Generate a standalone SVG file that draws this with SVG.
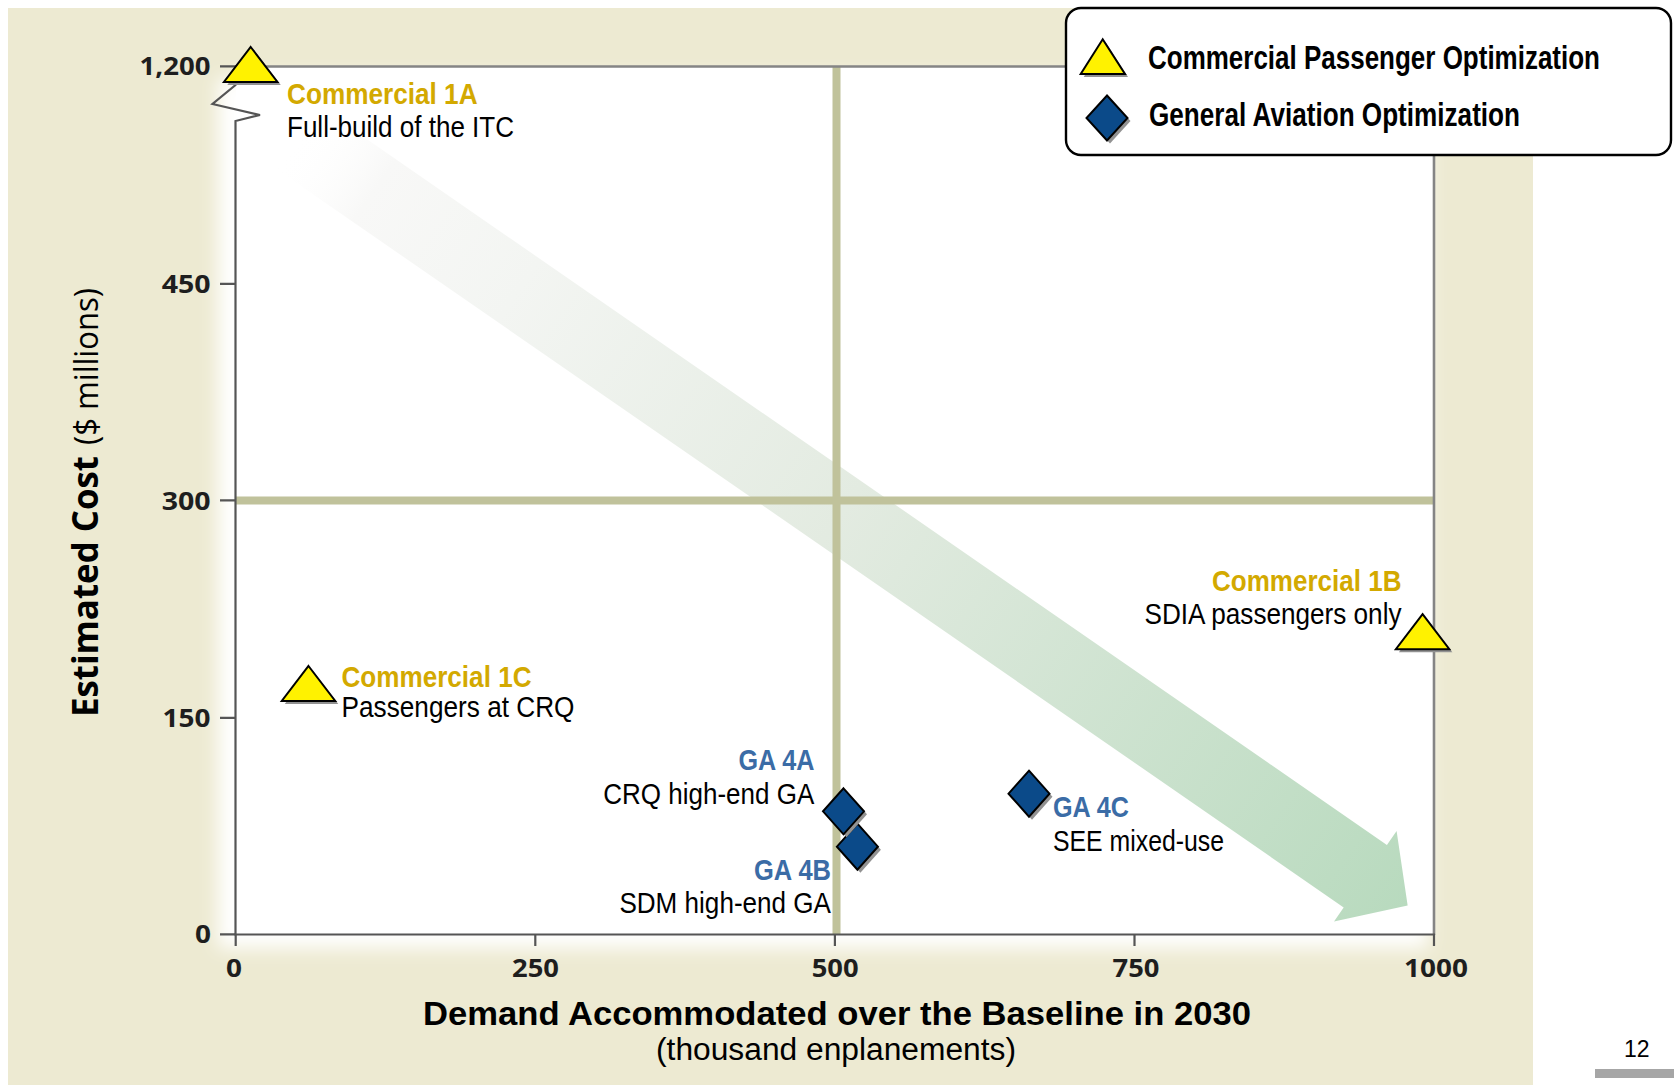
<svg xmlns="http://www.w3.org/2000/svg" width="1680" height="1085" viewBox="0 0 1680 1085">
<defs>
<style>
.b{font-family:"Liberation Sans",Arial,sans-serif;font-weight:bold}
.r{font-family:"Liberation Sans",Arial,sans-serif}
.com{fill:#D3A900;font-size:30px}
.ga{fill:#3B6CA6;font-size:30px}
.desc{fill:#000;font-size:30px}
.tick{font-family:"Open Sans","Liberation Sans",sans-serif;font-weight:bold;font-size:25px;fill:#1E1E1E}
.tri{fill:#FFF200;stroke:#000;stroke-width:2}
.dia{fill:#0B4A89;stroke:#000;stroke-width:2}
.sh{fill:#929292;stroke:none}
.grid{stroke:#C0C29B;stroke-width:8}
.axis{stroke:#555;stroke-width:2.2;fill:none}
.border{stroke:#858585;stroke-width:2.6;fill:none}
</style>
<polygon id="tri" points="0,0 26.75,35 -26.75,35"/>
<polygon id="dia" points="0,-23 20.5,0 0,23 -20.5,0"/>
<linearGradient id="arrowGrad" gradientUnits="userSpaceOnUse" x1="-660" y1="0" x2="692" y2="0">
<stop offset="0" stop-color="#FFFFFF" stop-opacity="0"/>
<stop offset="0.07" stop-color="#F8F8F7"/>
<stop offset="0.2" stop-color="#F3F5F2"/>
<stop offset="0.49" stop-color="#E3EBE1"/>
<stop offset="1" stop-color="#B8DABE"/>
</linearGradient>
<filter id="glow" x="-5%" y="-5%" width="110%" height="110%">
<feGaussianBlur stdDeviation="9"/>
</filter>
</defs>

<!-- background panel -->
<rect x="0" y="0" width="1680" height="1085" fill="#FFFFFF"/>
<rect x="8" y="8" width="1525" height="1077" fill="#EDEAD2"/>
<rect x="218" y="78" width="1210" height="870" fill="#FFFFFF" filter="url(#glow)"/>
<rect x="236" y="66" width="1198" height="868" fill="#FFFFFF"/>

<!-- trend arrow -->
<g id="connectors">
<g id="trend-arrow" transform="translate(839,512) rotate(34.68)">
<polygon points="-660,-38 640,-38 640,-55 691.5,0 640,55 640,38 -660,38" fill="url(#arrowGrad)"/>
</g>
</g>

<!-- grid and axes -->
<g id="axes">
<line class="grid" x1="836.5" y1="67" x2="836.5" y2="934"/>
<line class="grid" x1="236" y1="500.5" x2="1433" y2="500.5"/>
<line class="border" x1="236" y1="66.5" x2="1434" y2="66.5"/>
<line class="border" x1="1434" y1="66" x2="1434" y2="935"/>
<path class="axis" d="M235.5,66 V85 L212.5,104 L260,115 L235.5,121 V935"/>
<line class="axis" x1="234.5" y1="934.5" x2="1435" y2="934.5"/>
<path class="axis" d="M220,66.4H236 M220,283.9H236 M220,500.4H236 M220,717.9H236 M220,934.3H236"/>
<path class="axis" d="M235.7,934V946 M535.3,934V946 M834.9,934V946 M1134.5,934V946 M1434,934V946"/>
<text class="tick" x="139.5" y="75" textLength="71" lengthAdjust="spacingAndGlyphs">1,200</text>
<text class="tick" x="161.7" y="292.5" textLength="49" lengthAdjust="spacingAndGlyphs">450</text>
<text class="tick" x="161.7" y="509.5" textLength="49" lengthAdjust="spacingAndGlyphs">300</text>
<text class="tick" x="162.5" y="726.7" textLength="48" lengthAdjust="spacingAndGlyphs">150</text>
<text class="tick" x="195" y="943" textLength="16" lengthAdjust="spacingAndGlyphs">0</text>
<text class="tick" x="226" y="977" textLength="16" lengthAdjust="spacingAndGlyphs">0</text>
<text class="tick" x="512" y="977" textLength="47" lengthAdjust="spacingAndGlyphs">250</text>
<text class="tick" x="811.7" y="977" textLength="47" lengthAdjust="spacingAndGlyphs">500</text>
<text class="tick" x="1112.5" y="977" textLength="47" lengthAdjust="spacingAndGlyphs">750</text>
<text class="tick" x="1404" y="977" textLength="64" lengthAdjust="spacingAndGlyphs">1000</text>
<text class="b" x="423" y="1025" font-size="33" fill="#000" textLength="828" lengthAdjust="spacingAndGlyphs">Demand Accommodated over the Baseline in 2030</text>
<text class="r" x="656" y="1060" font-size="31" fill="#000" textLength="360" lengthAdjust="spacingAndGlyphs">(thousand enplanements)</text>
<g transform="translate(98,713) rotate(-90)">
<text x="-4" y="0" font-family="'Open Sans','Liberation Sans',sans-serif" font-weight="bold" font-size="35" fill="#000" textLength="261" lengthAdjust="spacingAndGlyphs">Estimated Cost</text>
<text x="268" y="0" font-family="'Open Sans','Liberation Sans',sans-serif" font-size="33" fill="#000" textLength="157" lengthAdjust="spacingAndGlyphs">($ millions)</text>
</g>
</g>

<!-- data points -->
<g id="commercial-1a">
<use href="#tri" class="sh" x="254" y="50"/>
<use href="#tri" class="tri" x="250.7" y="47"/>
<text class="b com" x="287" y="103.5" textLength="190.6" lengthAdjust="spacingAndGlyphs">Commercial 1A</text>
<text class="r desc" x="287" y="136.7" textLength="227" lengthAdjust="spacingAndGlyphs">Full-build of the ITC</text>
</g>

<g id="commercial-1c">
<use href="#tri" class="sh" x="311.5" y="669"/>
<use href="#tri" class="tri" x="308.5" y="666"/>
<text class="b com" x="341.5" y="686.5" textLength="190" lengthAdjust="spacingAndGlyphs">Commercial 1C</text>
<text class="r desc" x="341.5" y="717" textLength="233" lengthAdjust="spacingAndGlyphs">Passengers at CRQ</text>
</g>

<g id="commercial-1b">
<use href="#tri" class="sh" x="1425.6" y="617.2"/>
<use href="#tri" class="tri" x="1422.6" y="614.2"/>
<text class="b com" x="1212" y="590.5" textLength="189.5" lengthAdjust="spacingAndGlyphs">Commercial 1B</text>
<text class="r desc" x="1144.5" y="624" textLength="257" lengthAdjust="spacingAndGlyphs">SDIA passengers only</text>
</g>

<g id="ga-4b">
<use href="#dia" class="sh" x="860.4" y="849.7"/>
<use href="#dia" class="dia" x="857.4" y="846.7"/>
<text class="b ga" x="754" y="879.5" textLength="77" lengthAdjust="spacingAndGlyphs">GA 4B</text>
<text class="r desc" x="619.4" y="913" textLength="211.6" lengthAdjust="spacingAndGlyphs">SDM high-end GA</text>
</g>

<g id="ga-4a">
<use href="#dia" class="sh" x="846.5" y="814.3"/>
<use href="#dia" class="dia" x="843.5" y="811.3"/>
<text class="b ga" x="738.5" y="770" textLength="76" lengthAdjust="spacingAndGlyphs">GA 4A</text>
<text class="r desc" x="603.3" y="803.5" textLength="211" lengthAdjust="spacingAndGlyphs">CRQ high-end GA</text>
</g>

<g id="ga-4c">
<use href="#dia" class="sh" x="1032" y="796.7"/>
<use href="#dia" class="dia" x="1029" y="793.7"/>
<text class="b ga" x="1053" y="816.5" textLength="76" lengthAdjust="spacingAndGlyphs">GA 4C</text>
<text class="r desc" x="1053" y="850.5" textLength="171" lengthAdjust="spacingAndGlyphs">SEE mixed-use</text>
</g>

<!-- legend -->
<g id="legend">
<rect x="1066" y="8" width="605" height="147" rx="15" ry="15" fill="#FFFFFF" stroke="#000" stroke-width="2.4"/>
<polygon class="sh" points="1105.7,42.3 1128,77 1083.7,77"/>
<polygon class="tri" points="1102.7,39.3 1125,74 1080.7,74"/>
<text class="b" x="1148" y="69" font-size="33" fill="#000" textLength="452" lengthAdjust="spacingAndGlyphs">Commercial Passenger Optimization</text>
<polygon class="sh" points="1110,98.5 1130.5,121 1110,143.5 1089.5,121"/>
<polygon class="dia" points="1107,95.5 1127.5,118 1107,140.5 1086.5,118"/>
<text class="b" x="1149" y="126" font-size="33" fill="#000" textLength="371" lengthAdjust="spacingAndGlyphs">General Aviation Optimization</text>
</g>

<!-- page number -->
<g id="page-number">
<text class="r" x="1624" y="1057" font-size="23" fill="#000">12</text>
<rect x="1595" y="1069" width="79" height="9" fill="#A6A6A6"/>
</g>
</svg>
